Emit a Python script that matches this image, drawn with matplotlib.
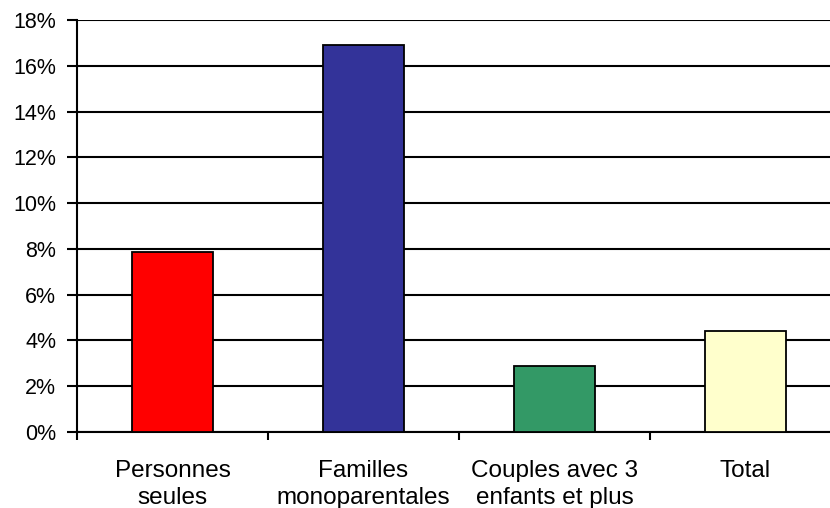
import matplotlib.pyplot as plt
from matplotlib.ticker import FuncFormatter, MultipleLocator

plt.rcParams['font.family'] = ['Liberation Sans', 'DejaVu Sans']

categories = ['Personnes\nseules', 'Familles\nmonoparentales',
              'Couples avec 3\nenfants et plus', 'Total']
values = [7.85, 16.9, 2.9, 4.4]
colors = ['#ff0000', '#333399', '#339966', '#ffffcc']

fig = plt.figure(figsize=(8.3, 5.08), dpi=100)
ax = fig.add_axes([77 / 830, 1 - 432 / 508, 764 / 830, 412 / 508])

x = list(range(len(categories)))
ax.bar(x, values, width=0.42, color=colors, edgecolor='black',
       linewidth=1.3, zorder=3)

ax.set_xlim(-0.5, len(categories) - 0.5)
ax.set_ylim(0, 18)
ax.yaxis.set_major_locator(MultipleLocator(2))
ax.yaxis.set_major_formatter(FuncFormatter(lambda v, _: f'{v:.0f}%'))
ax.grid(axis='y', color='black', linewidth=1.5, zorder=1)

# category labels centred under bars, ticks on the boundaries
ax.set_xticks(x)
ax.set_xticklabels(categories, fontsize=17.5, linespacing=1.3)
ax.tick_params(axis='x', length=0, pad=20)
ax.set_xticks([i - 0.5 for i in x] + [len(x) - 0.5], minor=True)
ax.tick_params(axis='x', which='minor', length=6, width=1.5, direction='out')
ax.tick_params(axis='y', length=7, width=1.5, labelsize=15.5, pad=8)

for side in ('top', 'right'):
    ax.spines[side].set_visible(False)
for side in ('left', 'bottom'):
    ax.spines[side].set_linewidth(1.5)

fig.savefig('out.png', dpi=100)
